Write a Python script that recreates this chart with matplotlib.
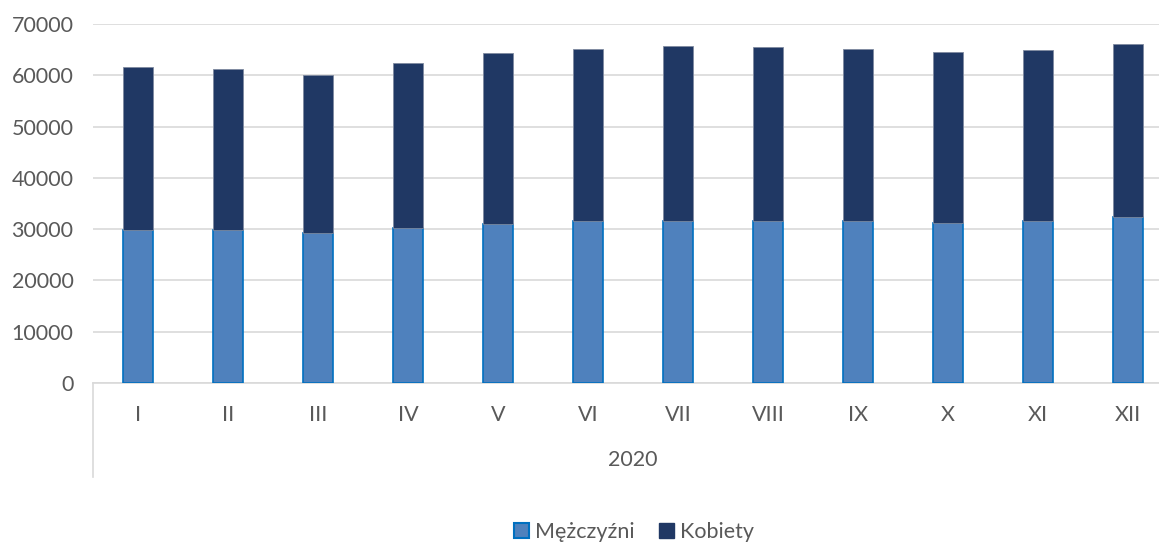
import numpy as np
import matplotlib.pyplot as plt
from matplotlib.patches import Patch

months = ['I', 'II', 'III', 'IV', 'V', 'VI', 'VII', 'VIII', 'IX', 'X', 'XI', 'XII']
year = '2020'
men = [29800, 29800, 29300, 30200, 31100, 31550, 31600, 31500, 31500, 31200, 31500, 32300]
total = [61550, 61250, 60100, 62300, 64400, 65150, 65650, 65500, 65100, 64450, 65000, 66050]
women = [t - m for t, m in zip(total, men)]

plt.rcParams['font.family'] = ['Lato', 'DejaVu Sans']
txt = '#595959'

fig = plt.figure(figsize=(11.59, 5.42), dpi=100)
# plot area runs past the right edge, like the cropped original
ax = fig.add_axes([93 / 1159, 1 - 383 / 542, 1080 / 1159, 359 / 542])

x = np.arange(len(months))
ax.bar(x, men, width=0.33, color='#4F81BD', edgecolor='#0070C0', linewidth=1.2, zorder=3)
ax.bar(x, women, width=0.33, bottom=men, color='#203864', edgecolor='#7F8AA0', linewidth=0.6, zorder=3)

ax.set_xlim(-0.5, len(months) - 0.5)
ax.set_ylim(0, 70000)
ax.set_yticks(range(0, 70001, 10000))
ax.tick_params(axis='y', length=0, labelsize=15.5, colors=txt, pad=14)
ax.set_xticks([])
ax.grid(axis='y', color='#D9D9D9', linewidth=1.2, zorder=0)
for s in ['top', 'right', 'left']:
    ax.spines[s].set_visible(False)
ax.spines['bottom'].set_color('#D9D9D9')
ax.spines['bottom'].set_linewidth(1.2)

# multi-level category labels
for i, m in enumerate(months):
    ax.text(i, -0.088, m, transform=ax.get_xaxis_transform(), ha='center', va='center',
            fontsize=15.5, color=txt)
ax.text((len(months) - 1) / 2, -0.215, year, transform=ax.get_xaxis_transform(),
        ha='center', va='center', fontsize=15.5, color=txt)
ax.plot([0, 0], [0, -0.262], transform=ax.transAxes, color='#D9D9D9', lw=1.2, clip_on=False)

handles = [Patch(facecolor='#4F81BD', edgecolor='#0070C0', linewidth=1.5, label='Mężczyźni'),
           Patch(facecolor='#203864', edgecolor='#203864', label='Kobiety')]
fig.legend(handles=handles, loc='center', bbox_to_anchor=(634 / 1159, 1 - 532 / 542), ncol=2,
           frameon=False, fontsize=15.5, labelcolor=txt, handlelength=0.7, handleheight=0.7,
           handletextpad=0.3, columnspacing=1.1, borderpad=0)

fig.savefig('out.png', dpi=100)
